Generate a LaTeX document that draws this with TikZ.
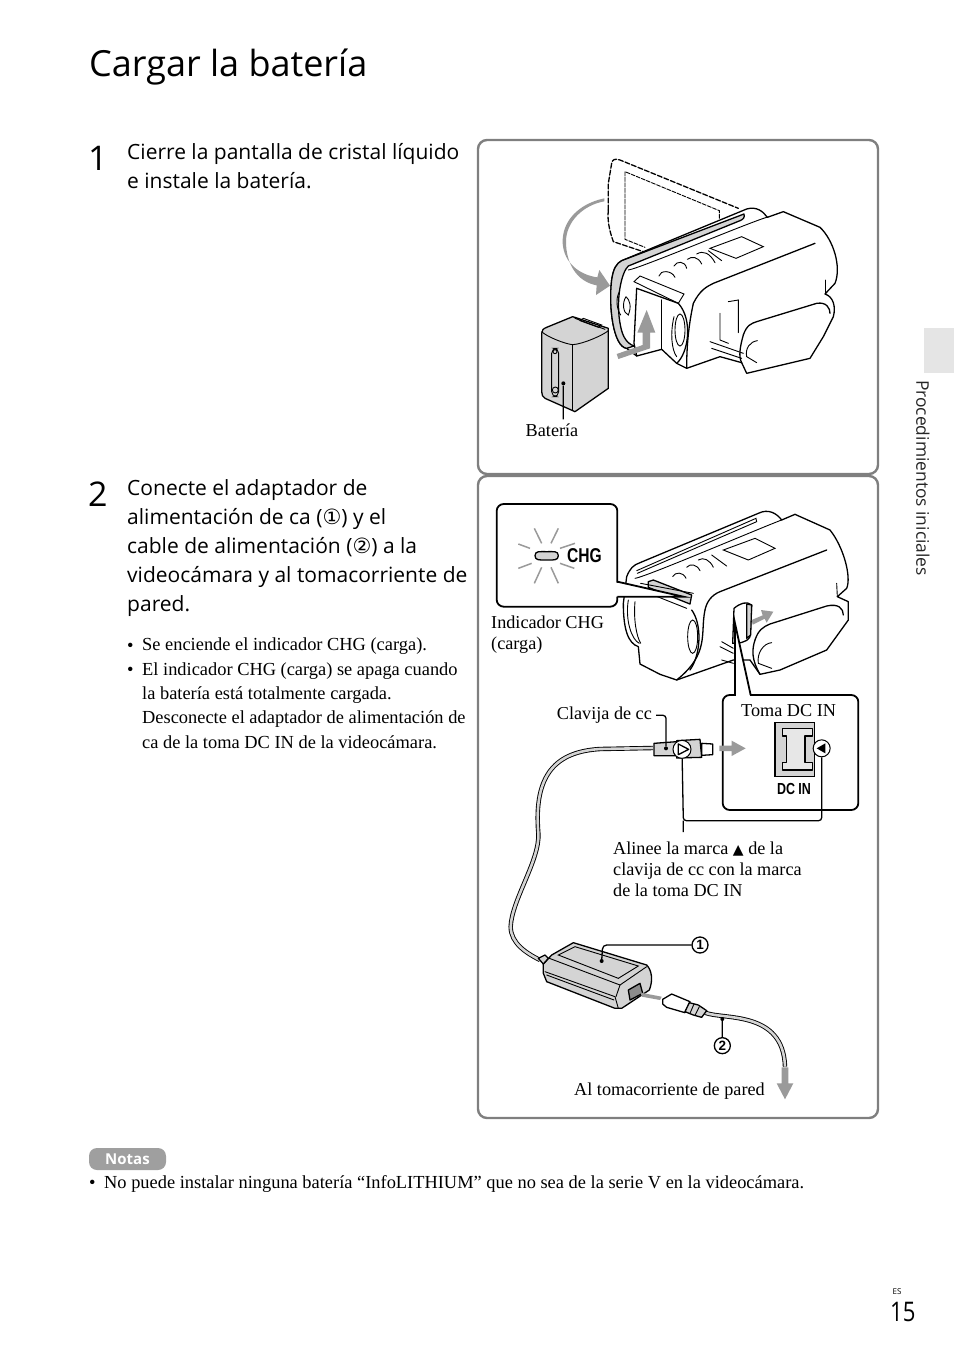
\documentclass[tikz,border=0pt]{standalone}
\usepackage{fontspec}
\setmainfont{Liberation Serif}
\newfontfamily\frutfont{Open Sans}
\newfontfamily\symfont{DejaVu Sans}
\newfontfamily\labelfont{Liberation Sans}
\usetikzlibrary{arrows.meta}
\definecolor{boxgray}{HTML}{7F7F7F}
\definecolor{arrowgray}{HTML}{9A9A9A}
\definecolor{fillgray}{HTML}{D4D4D4}
\tikzset{
    panelbox/.style={draw=boxgray,line width=2.4pt,rounded corners=9pt},
    calloutbox/.style={draw=black,fill=white,line width=1.8pt,rounded corners=7pt},
    camline/.style={draw=black,line width=1.3pt,line join=round,line cap=round},
    thinline/.style={draw=black,line width=.9pt,line cap=round},
    leader/.style={draw=black,line width=1.3pt},
    grayarrow/.style={fill=arrowgray,draw=none},
    cable/.style={draw=black,double=fillgray,double distance=2.6pt,line width=.9pt},
    bodytext/.style={anchor=north west,align=left,inner sep=0pt,font=\fontsize{18.4}{24.3}\selectfont},
    bullettext/.style={anchor=base west,inner sep=0pt,font=\fontsize{18.4}{24.3}\selectfont},
    steptext/.style={anchor=north west,align=left,inner sep=0pt,font=\frutfont\fontsize{21}{29}\selectfont},
    steplabel/.style={anchor=base west,inner sep=0pt,font=\frutfont\fontsize{34}{34}\selectfont},
    smalltext/.style={anchor=base west,inner sep=0pt,font=\fontsize{18.2}{21}\selectfont},
    numcircle/.style={draw=black,circle,line width=1.3pt,inner sep=0pt,minimum size=16pt,font=\labelfont\bfseries\fontsize{13.5}{13.5}\selectfont},
    leaddot/.style={circle,fill=black,inner sep=0pt,minimum size=4pt}
}
\begin{document}
\begin{tikzpicture}[x=1pt,y=-1pt]
    \useasboundingbox (0,0) rectangle (954,1357);
    % page texts
    \node[anchor=base west,inner sep=0pt,font=\frutfont\fontsize{36}{36}\selectfont] (title) at (89,76) {Cargar la batería};
    \node[steplabel] (stepone) at (88,170) {1};
    \node[steplabel] (steptwo) at (88,506) {2};
    \node[steptext] (textone) at (127,143.5) {Cierre la pantalla de cristal líquido\\e instale la batería.};
    \node[steptext] (texttwo) at (127,479.5) {Conecte el adaptador de\\alimentación de ca ({\symfont ①}) y el\\cable de alimentación ({\symfont ②}) a la\\videocámara y al tomacorriente de\\pared.};
    \node[bullettext] (bulletone) at (127,651) {•};
    \node[bullettext] (bullettwo) at (127,675) {•};
    \node[bodytext] (linesone) at (142,638) {Se enciende el indicador CHG (carga).\\El indicador CHG (carga) se apaga cuando\\la batería está totalmente cargada.\\Desconecte el adaptador de alimentación de\\ca de la toma DC IN de la videocámara.};
    % panels
    \draw[panelbox] (478,140) rectangle (878,474);
    \draw[panelbox] (478,476) rectangle (878,1118);
    % side tab
    \fill[gray!20] (924,328) rectangle (954,373);
    \node[rotate=-90,anchor=west,inner sep=0pt,font=\frutfont\fontsize{17.4}{17.4}\selectfont,text=black!85] (sidetext) at (923,380) {Procedimientos iniciales};
    % first camera
    \begin{scope}[shift={(480,140)},scale=1/3]
        \draw[camline,dashed,dash pattern=on 5pt off 2pt] (385,210) -- (385,130) -- (395,70) .. controls (397,58) and (405,55) .. (420,60) -- (775,205);
        \draw[camline,dashed,dash pattern=on 5pt off 2pt] (385,210) .. controls (380,250) and (395,290) .. (400,305) -- (490,335);
        \draw[thinline,dashed,dash pattern=on 4pt off 1.5pt] (718,235) -- (718,212) -- (435,95) -- (435,298) -- (495,322);
        \fill[grayarrow] (373,175) .. controls (300,190) and (245,240) .. (248,310) .. controls (252,370) and (300,405) .. (352,412) -- (358,390) -- (390,437) -- (348,465) -- (350,436) .. controls (290,425) and (258,370) .. (258,305) .. controls (258,245) and (310,195) .. (373,184) -- cycle;
        % body
        \draw[camline,fill=white] (800,207) .. controls (830,198) and (850,215) .. (862,232) -- (910,215) -- (1020,262) .. controls (1060,300) and (1085,380) .. (1065,430) -- (1035,462) .. controls (1060,470) and (1068,500) .. (1060,530) -- (1030,590) -- (990,655) -- (800,700) -- (785,668) -- (720,650) -- (620,685) -- (590,670) -- (545,628) -- (470,648) -- (440,625) .. controls (400,620) and (385,500) .. (395,420) .. controls (400,385) and (410,370) .. (425,362) -- cycle;
        \draw[camline,fill=fillgray] (792,222) .. controls (795,232) and (790,238) .. (780,242) -- (445,378) .. controls (425,395) and (405,480) .. (422,560) .. controls (428,590) and (440,610) .. (462,618) -- (440,625) .. controls (400,620) and (385,500) .. (395,420) .. controls (400,385) and (410,370) .. (425,362) -- (792,222);
        \draw[thinline] (445,390) .. controls (480,385) and (800,250) .. (860,232);
        \draw[thinline] (462,425) -- (480,408) -- (612,462) -- (595,490) -- cycle;
        \draw[camline] (470,445) -- (462,610) -- (470,648);
        \draw[camline] (545,480) -- (545,628);
        \draw[camline] (470,445) -- (595,490);
        \draw[camline] (595,490) .. controls (640,540) and (625,640) .. (590,670);
        \draw[thinline] (600,570) ellipse [x radius=15,y radius=48];
        \draw[thinline] (582,530) .. controls (570,580) and (575,630) .. (590,650);
        \draw[thinline] (537,408) .. controls (540,390) and (575,390) .. (585,412);
        \draw[thinline] (582,378) .. controls (590,362) and (615,362) .. (620,385);
        \draw[thinline] (622,358) .. controls (635,348) and (655,350) .. (665,372);
        \draw[thinline] (650,342) .. controls (670,330) and (690,340) .. (705,368);
        \draw[thinline] (685,332) -- (725,362);
        \draw[thinline] (690,325) -- (785,290) -- (850,320) -- (768,355) -- cycle;
        \draw[camline] (640,490) .. controls (660,450) and (680,440) .. (700,430) -- (1005,310);
        \draw[camline] (640,490) .. controls (625,560) and (620,620) .. (620,685);
        \draw[camline] (790,585) .. controls (800,555) and (815,550) .. (830,545) -- (1010,490) .. controls (1040,485) and (1050,505) .. (1050,520);
        \draw[camline] (790,585) .. controls (780,620) and (775,650) .. (785,668);
        \draw[thinline] (720,520) -- (720,600) -- (745,610);
        \draw[thinline] (745,485) -- (775,480) -- (775,578);
        \draw[thinline] (690,605) -- (790,640);
        \draw[thinline] (695,625) -- (785,655);
        \draw[thinline] (832,602) .. controls (810,605) and (795,625) .. (800,650) -- (830,668);
        \draw[thinline] (1035,420) -- (1035,462);
        \draw[thinline] (438,470) .. controls (425,490) and (430,520) .. (445,525) .. controls (455,500) and (450,480) .. (438,470);
        \draw[thinline] (418,455) .. controls (405,480) and (412,510) .. (422,525);
        % battery
        \draw[camline,fill=fillgray] (185,580) .. controls (185,570) and (190,566) .. (200,562) -- (278,530) -- (385,565) -- (385,745) -- (285,815) -- (195,775) .. controls (188,770) and (185,765) .. (185,755) -- cycle;
        \draw[thinline] (185,575) .. controls (200,590) and (255,612) .. (278,614) .. controls (310,612) and (370,585) .. (385,572);
        \draw[thinline] (278,614) -- (278,810);
        \draw[thinline] (285,535) -- (375,568);
        \draw[thinline] (310,535) -- (365,555) -- (355,562) -- (300,542) -- cycle;
        \draw[thinline,rounded corners=5pt] (215,625) rectangle (236,770);
        \draw[thinline] (225,635) circle [radius=6];
        \draw[thinline] (226,750) circle [radius=9];
        % bent arrow
        \fill[grayarrow] (410,642) -- (488,615) -- (488,578) -- (472,578) -- (500,510) -- (526,578) -- (510,578) -- (510,625) -- (415,657) -- cycle;
        \node[leaddot] (batdot) at (250,730) {};
        \node[smalltext,anchor=base] (batlabel) at (216,888) {Batería};
        \draw[leader] (batdot) -- (250,838);
    \end{scope}
    % second camera
    \begin{scope}[shift={(480,480)},scale=1/3]
        \draw[camline,fill=white] (440,290) .. controls (450,265) and (460,255) .. (480,248) -- (835,100) .. controls (865,85) and (890,100) .. (905,120) -- (945,103) -- (1050,150) .. controls (1090,200) and (1115,290) .. (1100,325) -- (1072,350) -- (1105,365) -- (1105,420) -- (1040,510) -- (900,570) -- (840,583) -- (810,540) -- (760,540) -- (590,600) -- (540,583) -- (480,552) -- (475,500) .. controls (445,490) and (430,450) .. (430,370) -- cycle;
        \draw[thinline] (470,272) -- (828,115) -- (830,125) -- (472,280);
        \draw[thinline] (465,295) .. controls (500,290) and (850,140) .. (905,120);
        \draw[camline,fill=fillgray] (505,305) -- (520,300) -- (635,345) -- (630,372) -- (505,322) -- cycle;
        \draw[thinline] (482,310) -- (640,340);
        \draw[thinline] (482,330) -- (620,385);
        \draw[thinline] (730,210) -- (825,175) -- (885,205) -- (805,240) -- cycle;
        \draw[thinline] (578,290) .. controls (585,275) and (610,275) .. (618,295);
        \draw[thinline] (620,262) .. controls (630,250) and (650,252) .. (660,272);
        \draw[thinline] (655,240) .. controls (670,230) and (690,240) .. (700,262);
        \draw[thinline] (695,225) -- (740,258);
        \draw[camline] (675,390) .. controls (680,365) and (695,345) .. (720,335) -- (1040,210);
        \draw[camline] (675,390) .. controls (660,460) and (690,520) .. (590,600);
        \draw[camline] (635,390) .. controls (665,430) and (665,520) .. (630,570);
        \draw[thinline] (638,470) ellipse [x radius=15,y radius=50];
        \draw[thinline] (445,360) .. controls (435,420) and (455,480) .. (478,490);
        \draw[thinline] (465,365) .. controls (460,420) and (470,470) .. (482,490);
        \draw[camline,fill=white] (762,385) .. controls (780,370) and (800,362) .. (815,375) -- (810,470) .. controls (800,490) and (770,490) .. (758,490) -- cycle;
        \draw[camline,fill=fillgray] (800,372) -- (815,375) -- (812,465) -- (800,475) -- cycle;
        \draw[camline] (825,480) .. controls (835,450) and (850,440) .. (870,432) -- (1040,378) .. controls (1075,370) and (1090,385) .. (1090,405);
        \draw[camline] (825,480) .. controls (815,510) and (815,540) .. (840,583);
        \draw[thinline] (720,500) -- (760,520);
        \draw[thinline] (725,485) -- (760,505);
        \draw[thinline] (725,540) -- (760,550);
        \draw[thinline] (875,488) .. controls (850,490) and (830,520) .. (835,550) -- (875,565);
        \draw[thinline] (1070,310) -- (1072,350);
        \fill[grayarrow] (815,420) -- (848,406) -- (843,390) -- (880,395) -- (860,428) -- (854,416) -- (818,434) -- cycle;
        % callout for the indicator
        \fill[white] (400,305) -- (610,350) -- (400,350) -- cycle;
        \draw[calloutbox] (50,72) rectangle (412,380);
        \fill[white] (405,307) -- (607,350) -- (405,350) -- cycle;
        \draw[leader,line width=1.8pt] (412,305) -- (610,350) -- (412,350);
        \draw[camline,fill=fillgray] (165,227) .. controls (165,212) and (180,215) .. (200,215) .. controls (220,215) and (235,212) .. (235,227) .. controls (235,242) and (220,240) .. (200,240) .. controls (180,240) and (165,242) .. (165,227) -- cycle;
        \foreach \rayfrom/\rayto in {{(185,190)/(163,145)},{(213,190)/(235,145)},{(150,205)/(115,192)},{(240,205)/(285,190)},{(155,250)/(115,265)},{(240,250)/(283,265)},{(185,262)/(163,310)},{(213,262)/(235,310)}}
            \draw[line width=1.5pt,draw=arrowgray] \rayfrom -- \rayto;
        \node[inner sep=0pt,font=\labelfont\bfseries\fontsize{20}{20}\selectfont] (chgtext) at (313,228) {\scalebox{.78}[1]{CHG}};
        % callout for the jack
        \fill[white] (765,430) -- (812,660) -- (765,660) -- cycle;
        \draw[calloutbox] (728,645) rectangle (1135,990);
        \fill[white] (768,440) -- (810,648) -- (768,648) -- cycle;
        \draw[leader,line width=1.8pt] (765,645) -- (765,430) -- (812,645);
        \draw[draw=black,line width=1.6pt,fill=fillgray] (885,728) rectangle (1003,890);
        \draw[camline,fill=fillgray!55] (908,745) -- (998,745) -- (998,768) -- (975,768) -- (975,848) -- (998,848) -- (998,870) -- (908,870) -- (908,848) -- (920,848) -- (920,768) -- (908,768) -- cycle;
        \node[inner sep=0pt,font=\labelfont\bfseries\fontsize{16}{16}\selectfont] (dcintext) at (942,926) {\scalebox{.78}[1]{DC IN}};
        % plug
        \draw[camline,fill=fillgray] (522,790) -- (590,785) -- (590,827) -- (522,827) -- cycle;
        \draw[camline,fill=fillgray] (590,782) -- (660,778) -- (665,832) -- (590,834) -- cycle;
        \draw[camline,fill=white] (665,790) -- (698,792) -- (698,824) -- (665,826) -- cycle;
        \node[draw=black,circle,fill=white,line width=1pt,minimum size=18pt,inner sep=0pt] (plugring) at (606,808) {};
        \draw[camline,fill=white] (595,792) -- (626,808) -- (595,824) -- cycle;
        \node[draw=black,circle,fill=white,line width=1pt,minimum size=17pt,inner sep=0pt] (jackring) at (1025,805) {};
        \fill[black] (1010,805) -- (1036,790) -- (1036,820) -- cycle;
        \fill[grayarrow] (718,797) -- (755,797) -- (755,782) -- (797,805) -- (755,828) -- (755,813) -- (718,813) -- cycle;
        \node[leaddot] (plugdot) at (558,805) {};
        \node[smalltext] (plugtext) at (230,717) {Clavija de cc};
        \coordinate (plugturn) at (528,706);
        \draw[leader,rounded corners=3pt] (plugturn) -- (558,706) -- (plugdot);
        \node[smalltext] (jacktext) at (783,708) {Toma DC IN};
        \node[smalltext] (chglabel) at (33,444) {Indicador CHG};
        \node[smalltext] (chglabeltwo) at (33,507) {(carga)};
        \coordinate (alignturn) at (610,1022);
        \draw[leader,rounded corners=3pt] (plugring) -- (alignturn) -- (1025,1022) -- (jackring);
        \draw[leader] (alignturn) -- (610,1056);
    \end{scope}
    \node[bodytext,font=\fontsize{18.2}{21}\selectfont] (alignlabel) at (613,842) {Alinee la marca {\symfont\fontsize{14}{14}\selectfont ▲} de la\\clavija de cc con la marca\\de la toma DC IN};
    % cable and adapter
    \begin{scope}[shift={(490,820)},scale=1/3]
        \draw[cable] (489,-216) -- (330,-213) .. controls (200,-205) and (130,-140) .. (145,40) .. controls (150,120) and (65,240) .. (62,320) .. controls (62,370) and (110,400) .. (150,420);
        \draw[camline,fill=fillgray] (160,432) -- (185,405) -- (250,368) -- (470,435) .. controls (485,450) and (490,480) .. (478,510) -- (395,565) -- (375,565) -- (170,485) -- (160,460) -- cycle;
        \draw[thinline] (178,415) -- (390,495) -- (470,440);
        \draw[thinline] (205,405) -- (255,380) -- (445,438) -- (385,475) -- cycle;
        \draw[thinline] (165,455) -- (375,530) -- (385,565);
        \draw[thinline] (170,465) -- (372,540);
        \draw[thinline] (390,495) -- (378,530);
        \draw[camline,fill=black!45] (415,510) -- (450,490) -- (458,520) -- (420,540) -- cycle;
        \draw[camline,fill=fillgray] (145,415) -- (165,405) -- (175,415) -- (160,432) -- cycle;
        \fill[grayarrow] (452,518) -- (515,530) -- (510,540) -- (455,530) -- cycle;
        \draw[cable] (645,578) .. controls (700,600) and (880,570) .. (885,740);
        \draw[camline,fill=white] (518,538) -- (545,522) -- (600,545) -- (585,578) -- (530,562) -- (518,552) -- cycle;
        \draw[camline,fill=fillgray] (598,548) -- (625,555) -- (650,572) -- (635,592) -- (610,585) -- (585,575) -- cycle;
        \draw[thinline] (612,552) -- (600,580);
        \draw[thinline] (628,560) -- (615,586);
        \fill[grayarrow] (875,742) -- (895,742) -- (895,790) -- (910,790) -- (885,838) -- (860,790) -- (875,790) -- cycle;
        \node[leaddot] (adapterdot) at (335,423) {};
        \node[leaddot] (corddot) at (697,597) {};
        \node[numcircle] (numone) at (630,375) {1};
        \node[numcircle] (numtwo) at (697,677) {2};
        \draw[leader,rounded corners=4pt] (numone) -- (338,375) -- (adapterdot);
        \draw[leader] (numtwo) -- (corddot);
        \node[smalltext] (walllabel) at (252,825) {Al tomacorriente de pared};
    \end{scope}
    % note
    \node[fill=gray!75,rounded corners=8pt,minimum width=77pt,minimum height=22pt,inner sep=0pt,text=white,font=\frutfont\bfseries\fontsize{15}{15}\selectfont] (notas) at (127.5,1159) {Notas};
    \node[bullettext] (notebullet) at (89,1188) {•};
    \node[bullettext] (notetext) at (104,1188) {No puede instalar ninguna batería “InfoLITHIUM” que no sea de la serie V en la videocámara.};
    % page number
    \node[inner sep=0pt,anchor=base,font=\frutfont\fontsize{8}{8}\selectfont] (lang) at (897,1294) {ES};
    \node[inner sep=0pt,anchor=base west,font=\frutfont\fontsize{27}{27}\selectfont] (pagenum) at (890,1321) {\scalebox{.82}[1]{15}};
\end{tikzpicture}
\end{document}
